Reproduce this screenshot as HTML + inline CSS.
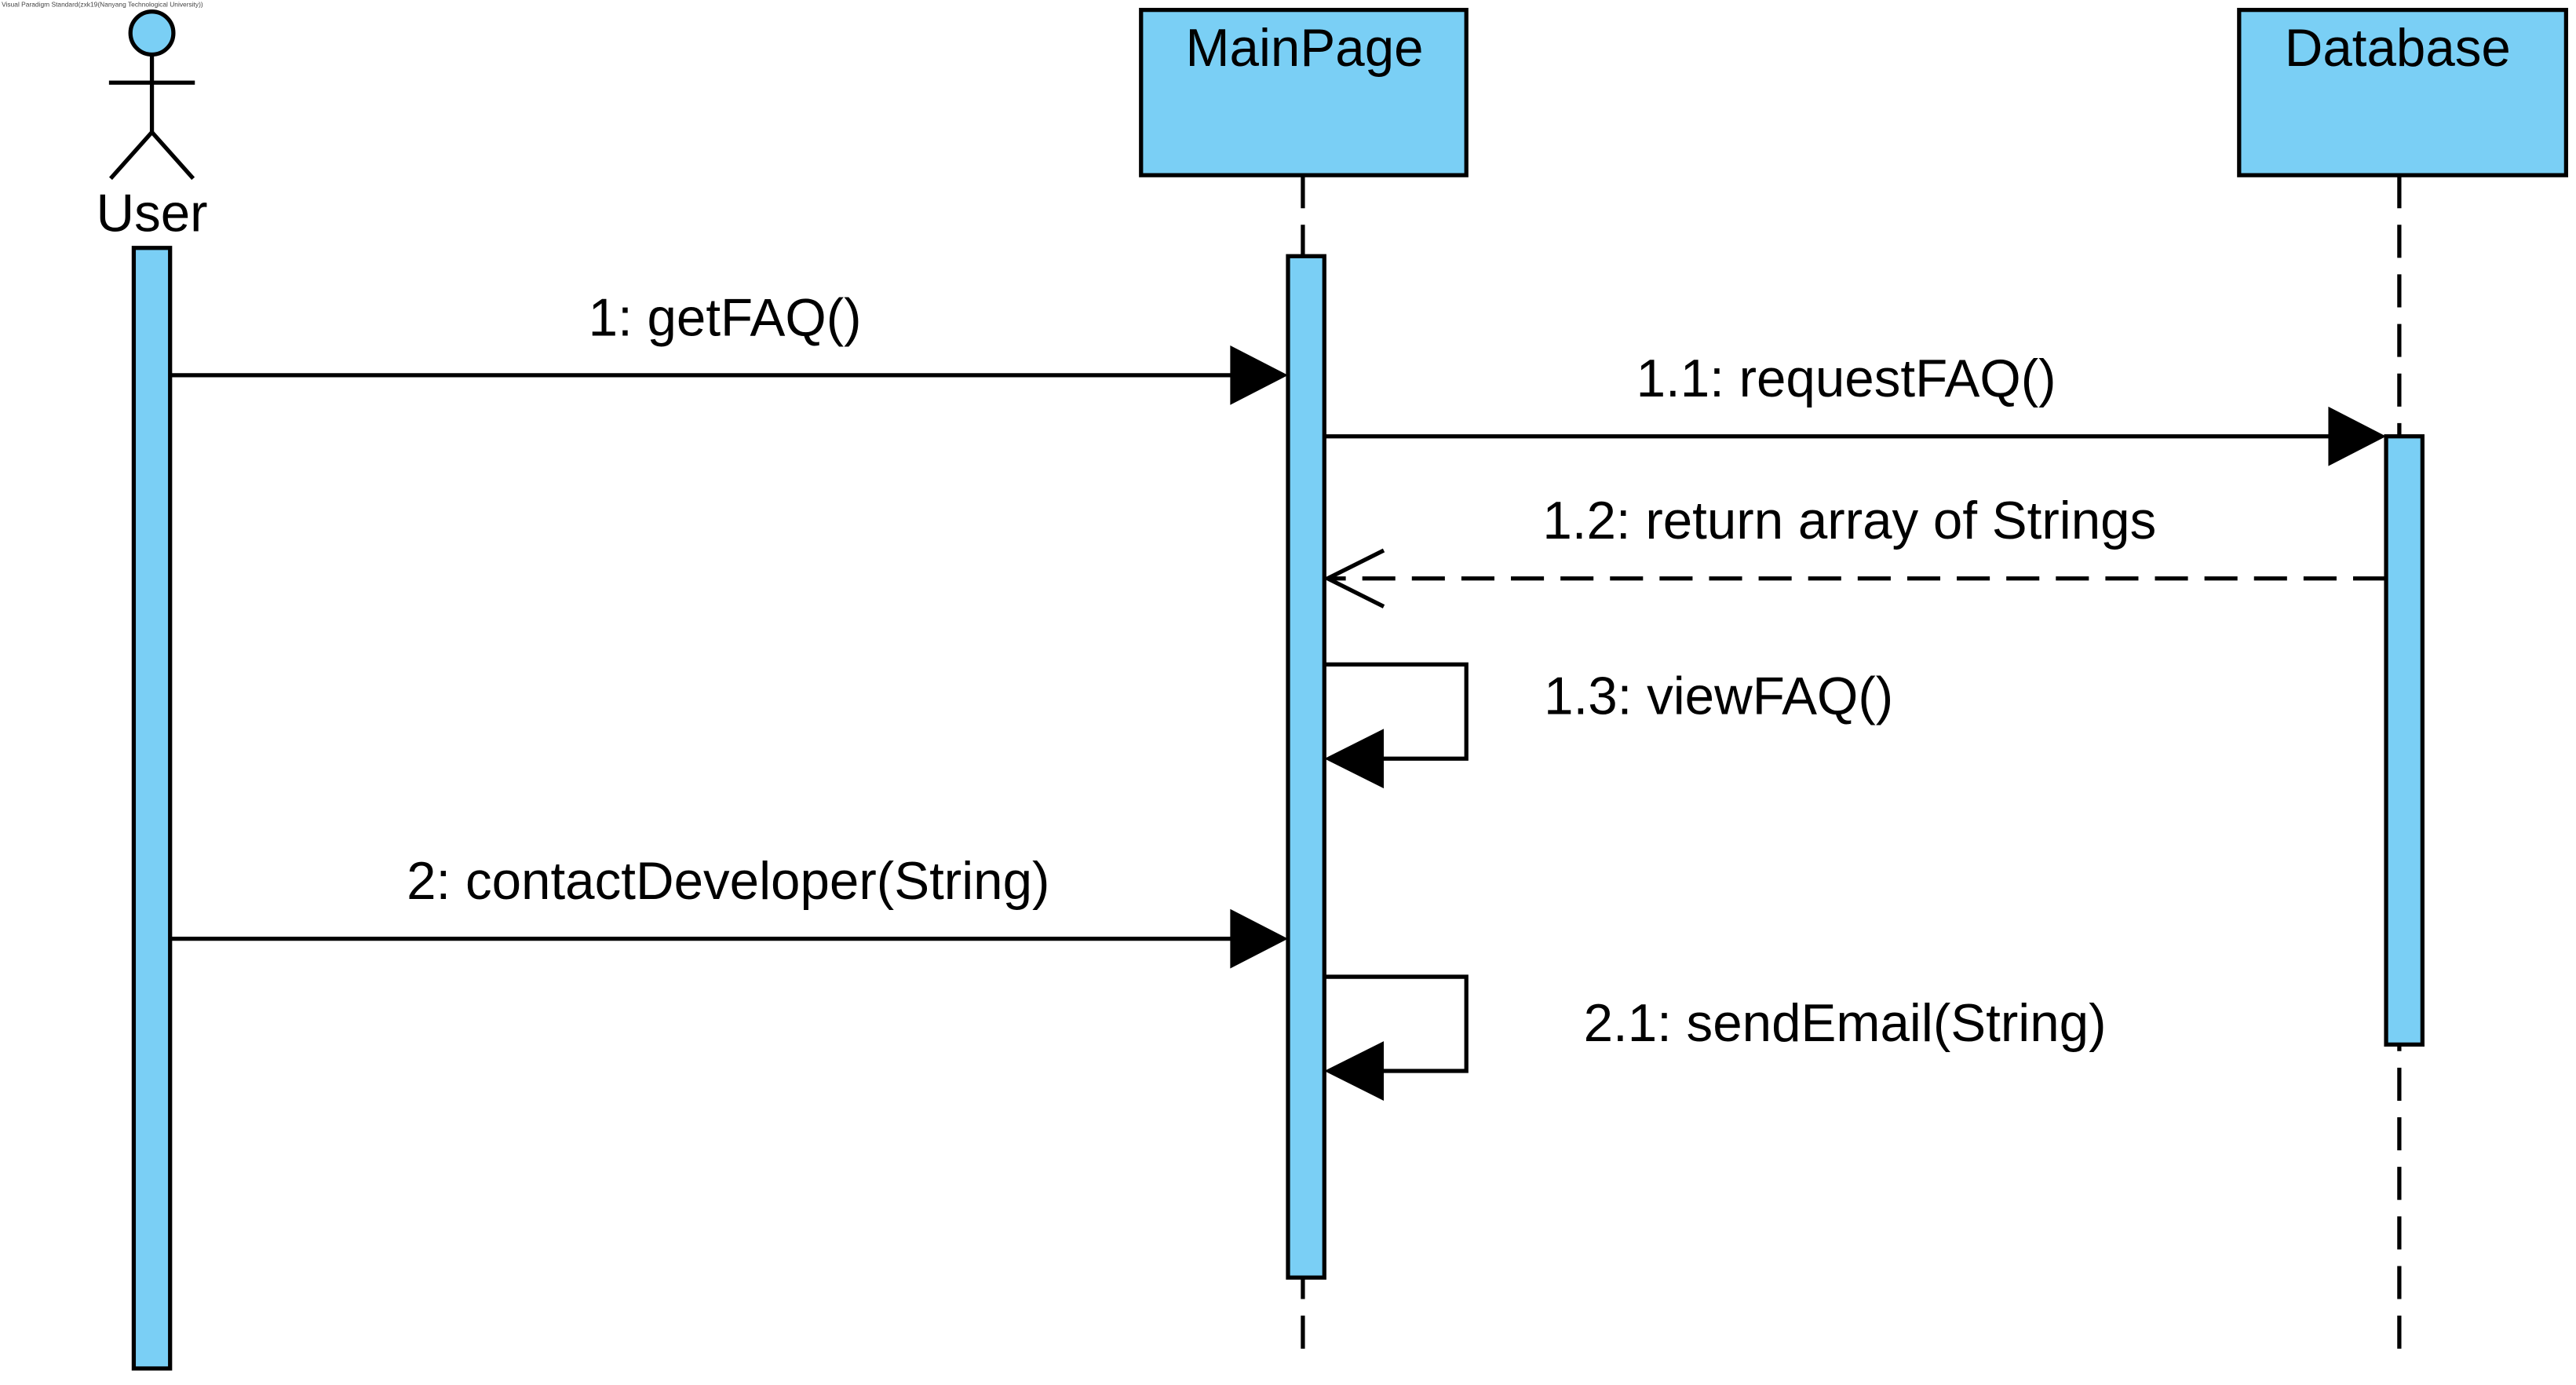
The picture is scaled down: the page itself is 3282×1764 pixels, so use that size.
<!DOCTYPE html>
<html><head><style>html,body{margin:0;padding:0;background:#fff}svg{display:block}</style></head>
<body>
<svg width="3282" height="1764" viewBox="0 0 1560 838" preserveAspectRatio="none" xmlns="http://www.w3.org/2000/svg" font-family="Liberation Sans, Arial, sans-serif">
<text x="1" y="4" font-size="4" fill="#444">Visual Paradigm Standard(zxk19(Nanyang Technological University))</text>
<g stroke="#000" stroke-width="2.5" fill="none">
<circle cx="92" cy="20" r="13" fill="#7ACFF5"/>
<line x1="92" y1="33" x2="92" y2="80"/>
<line x1="66" y1="50" x2="118" y2="50"/>
<line x1="92" y1="80" x2="67" y2="108"/>
<line x1="92" y1="80" x2="117" y2="108"/>
<line x1="789" y1="106" x2="789" y2="822" stroke-dasharray="20,10"/>
<line x1="1453" y1="106" x2="1453" y2="822" stroke-dasharray="20,10"/>
<rect x="691" y="6" width="197" height="100" fill="#7ACFF5"/>
<rect x="1356" y="6" width="198" height="100" fill="#7ACFF5"/>
<rect x="81" y="150" width="22" height="678" fill="#7ACFF5"/>
<rect x="780" y="155" width="22" height="618" fill="#7ACFF5"/>
<rect x="1445" y="264" width="22" height="368" fill="#7ACFF5"/>
<line x1="103" y1="227" x2="746" y2="227"/>
<line x1="802" y1="264" x2="1411" y2="264"/>
<line x1="1445" y1="350" x2="804" y2="350" stroke-dasharray="20,10"/>
<polyline points="838,333 804,350 838,367"/>
<polyline points="802,402 888,402 888,459 836,459"/>
<line x1="103" y1="568" x2="746" y2="568"/>
<polyline points="802,591 888,591 888,648 836,648"/>
</g>
<g fill="#000">
<polygon points="745,209 780,227 745,245"/>
<polygon points="1410,246 1445,264 1410,282"/>
<polygon points="838,441 802,459 838,477"/>
<polygon points="745,550 780,568 745,586"/>
<polygon points="838,630 802,648 838,666"/>
</g>
<g font-size="32" fill="#000">
<text x="92" y="140" text-anchor="middle">User</text>
<text x="790" y="40" text-anchor="middle">MainPage</text>
<text x="1452" y="40" text-anchor="middle">Database</text>
<text x="439" y="203" text-anchor="middle">1: getFAQ()</text>
<text x="1118" y="240" text-anchor="middle">1.1: requestFAQ()</text>
<text x="1120" y="326" text-anchor="middle">1.2: return array of Strings</text>
<text x="935" y="432">1.3: viewFAQ()</text>
<text x="441" y="544" text-anchor="middle">2: contactDeveloper(String)</text>
<text x="959" y="630">2.1: sendEmail(String)</text>
</g>
</svg>
</body></html>
